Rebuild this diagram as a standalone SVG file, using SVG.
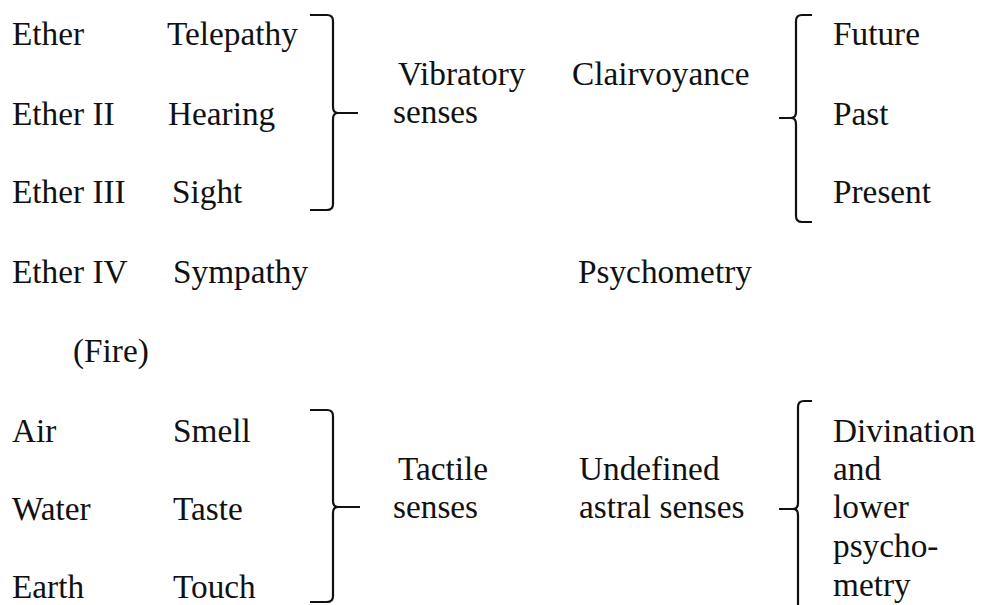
<svg xmlns="http://www.w3.org/2000/svg" width="984" height="605" viewBox="0 0 984 605">
<style>
text{font-family:"Liberation Serif","Times New Roman",serif;font-size:33.3px;fill:#111}
.br{fill:none;stroke:#111;stroke-width:2.2;stroke-linecap:butt;stroke-linejoin:round}
</style>
<rect width="984" height="605" fill="#fff"/>
<g id="col1">
<text x="12" y="45">Ether</text>
<text x="12" y="125">Ether II</text>
<text x="12" y="203">Ether III</text>
<text x="12" y="283">Ether IV</text>
<text x="73" y="362">(Fire)</text>
<text x="12" y="442">Air</text>
<text x="12" y="520">Water</text>
<text x="12" y="598">Earth</text>
</g>
<g id="col2">
<text x="167" y="45">Telepathy</text>
<text x="168" y="125">Hearing</text>
<text x="172" y="203">Sight</text>
<text x="173" y="283">Sympathy</text>
<text x="173" y="442">Smell</text>
<text x="173" y="520">Taste</text>
<text x="173" y="598">Touch</text>
</g>
<g id="vibratory">
<text x="398" y="85">Vibratory</text>
<text x="393" y="123">senses</text>
</g>
<g id="clairvoyance"><text x="572" y="85">Clairvoyance</text></g>
<g id="times">
<text x="833" y="45">Future</text>
<text x="833" y="125">Past</text>
<text x="833" y="203">Present</text>
</g>
<g id="psychometry"><text x="578" y="283">Psychometry</text></g>
<g id="tactile">
<text x="398" y="480">Tactile</text>
<text x="393" y="518">senses</text>
</g>
<g id="undefined">
<text x="579" y="480">Undefined</text>
<text x="579" y="518">astral senses</text>
</g>
<g id="divination">
<text x="833" y="442">Divination</text>
<text x="833" y="480">and</text>
<text x="833" y="518">lower</text>
<text x="833" y="557">psycho-</text>
<text x="833" y="596">metry</text>
</g>
<g id="connectors">
<path class="br" d="M310,15 L327,15 Q333,15 333,21 L333,107 Q333,113 338,113 L358,113 M338,113 Q333,113 333,119 L333,204 Q333,210 327,210 L310,210"/>
<path class="br" d="M812,15 L802,15 Q796,15 796,21 L796,112 Q796,118 791,118 L779,118 M791,118 Q796,118 796,124 L796,216 Q796,222 802,222 L812,222"/>
<path class="br" d="M310,410 L327,410 Q333,410 333,416 L333,501 Q333,507 338,507 L360,507 M338,507 Q333,507 333,513 L333,596 Q333,602 327,602 L310,602"/>
<path class="br" d="M812,401 L804,401 Q798,401 798,407 L798,503 Q798,509 793,509 L779,509 M793,509 Q798,509 798,515 L798,612"/>
</g>
</svg>
